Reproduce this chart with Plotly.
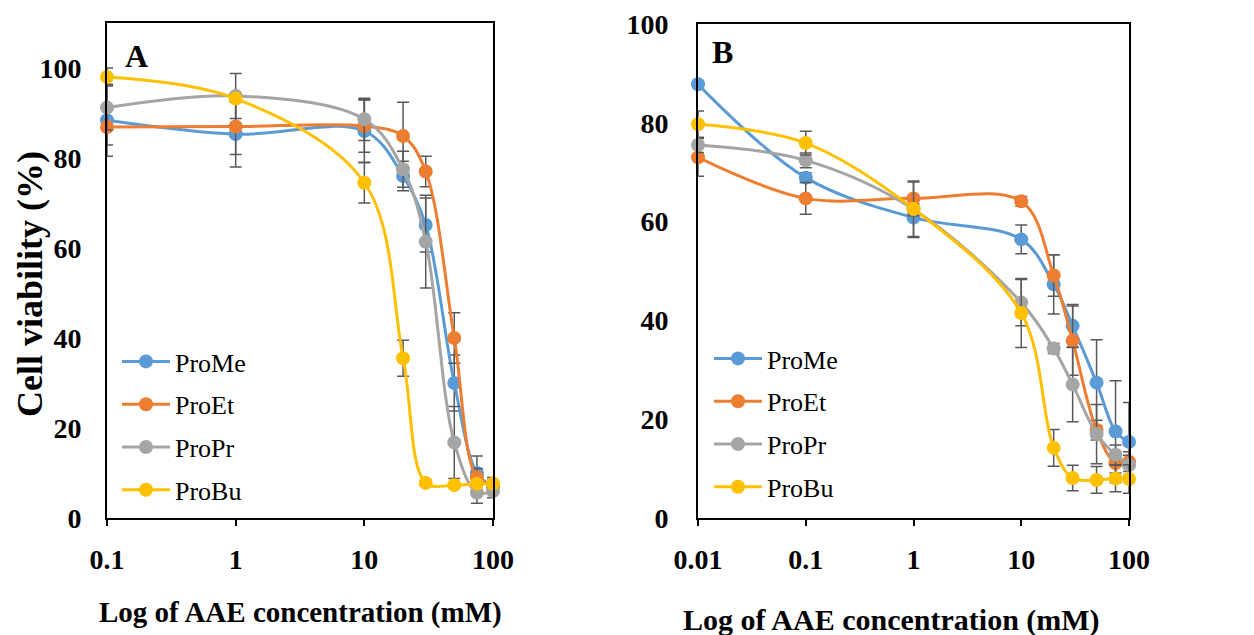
import plotly.graph_objects as go

names = ["ProMe", "ProEt", "ProPr", "ProBu"]
colors = ["#5B9BD5", "#ED7D31", "#A5A5A5", "#FFC000"]

# Panel A
conc_A = [0.1, 1, 10, 20, 30, 50, 75, 100]
A_ProMe = [88.4, 85.3, 86.0, 76.0, 65.1, 30.0, 10.0, 7.0]
A_ProEt = [86.9, 87.0, 87.1, 84.9, 77.0, 40.0, 9.0, 7.5]
A_ProPr = [91.2, 93.8, 88.6, 77.5, 61.4, 16.8, 5.6, 6.0]
A_ProBu = [98.0, 93.2, 74.5, 35.5, 7.8, 7.3, 7.6, 7.6]
A_err_ProMe = [8.0, 7.3, 7.0, 3.3, 6.0, 6.2, 3.8, 1.5]
A_err_ProEt = [4.0, 6.2, 5.8, 7.5, 3.4, 5.6, 2.0, 1.5]
A_err_ProPr = [5.0, 5.0, 4.7, 4.0, 10.3, 8.0, 2.3, 1.5]
A_err_ProBu = [2.0, 0.8, 4.5, 4.0, 0.6, 0.5, 0.5, 0.5]

# Panel B
conc_B = [0.01, 0.1, 1, 10, 20, 30, 50, 75, 100]
B_ProMe = [87.8, 68.9, 60.8, 56.4, 47.3, 38.9, 27.4, 17.5, 15.4]
B_ProEt = [73.0, 64.7, 64.7, 64.1, 49.1, 35.9, 17.8, 11.1, 11.4]
B_ProPr = [75.5, 72.4, 62.5, 43.6, 34.3, 27.0, 17.0, 12.8, 10.7]
B_ProBu = [79.7, 75.9, 62.6, 41.5, 14.2, 8.1, 7.7, 8.0, 7.9]
B_err_ProMe = [0.5, 1.0, 4.0, 2.9, 6.0, 4.3, 8.7, 10.3, 8.0]
B_err_ProEt = [3.8, 3.2, 3.5, 1.0, 4.2, 7.0, 2.0, 2.0, 2.0]
B_err_ProPr = [1.5, 1.5, 5.5, 4.7, 1.0, 7.5, 6.0, 2.0, 2.0]
B_err_ProBu = [2.7, 2.4, 1.0, 7.0, 3.7, 2.6, 2.7, 2.7, 2.9]

A_vals = [A_ProMe, A_ProEt, A_ProPr, A_ProBu]
A_errs = [A_err_ProMe, A_err_ProEt, A_err_ProPr, A_err_ProBu]
B_vals = [B_ProMe, B_ProEt, B_ProPr, B_ProBu]
B_errs = [B_err_ProMe, B_err_ProEt, B_err_ProPr, B_err_ProBu]

W, H = 1254, 635
SERIF = "Liberation Serif, Times New Roman, serif"

fig = go.Figure()

for i, n in enumerate(names):
    fig.add_trace(go.Scatter(
        x=conc_A, y=A_vals[i], name=n, mode="lines+markers",
        line=dict(color=colors[i], width=3, shape="spline"),
        marker=dict(color=colors[i], size=14),
        error_y=dict(type="data", array=A_errs[i], color="#595959", thickness=1.5, width=6),
        xaxis="x", yaxis="y", legend="legend", legendgroup="A" + n,
        cliponaxis=False,
    ))
for i, n in enumerate(names):
    fig.add_trace(go.Scatter(
        x=conc_B, y=B_vals[i], name=n, mode="lines+markers",
        line=dict(color=colors[i], width=3, shape="spline"),
        marker=dict(color=colors[i], size=14),
        error_y=dict(type="data", array=B_errs[i], color="#595959", thickness=1.5, width=6),
        xaxis="x2", yaxis="y2", legend="legend2", legendgroup="B" + n,
        cliponaxis=False,
    ))

def px_x(p):
    return p / W

def px_y(p):
    return 1 - p / H

tickfont = dict(family=SERIF, size=28, color="black", weight="bold")
axis_common = dict(showgrid=False, zeroline=False, showline=True, linecolor="black",
                   linewidth=2, mirror=True, tickfont=tickfont, automargin=False)

legend_common = dict(xanchor="left", yanchor="top",
                     font=dict(family=SERIF, size=26, color="black"),
                     bgcolor="rgba(0,0,0,0)", itemwidth=48, tracegroupgap=6,
                     traceorder="grouped")

fig.update_layout(
    template="none",
    width=W, height=H,
    margin=dict(l=0, r=0, t=0, b=0, pad=0),
    paper_bgcolor="white", plot_bgcolor="white",
    xaxis=dict(type="log", range=[-1, 2], domain=[px_x(107), px_x(493)],
               tickvals=[0.1, 1, 10, 100], ticktext=["0.1", "1", "10", "100"],
               ticks="outside", ticklen=6, tickcolor="black", tickwidth=2,
               ticklabelstandoff=9, anchor="y", **axis_common),
    yaxis=dict(range=[0, 110], domain=[px_y(518), px_y(23)],
               tickvals=[0, 20, 40, 60, 80, 100], ticks="",
               ticklabelstandoff=18, anchor="x", **axis_common),
    xaxis2=dict(type="log", range=[-2, 2], domain=[px_x(698), px_x(1129)],
                tickvals=[0.01, 0.1, 1, 10, 100], ticktext=["0.01", "0.1", "1", "10", "100"],
                ticks="outside", ticklen=6, tickcolor="black", tickwidth=2,
                ticklabelstandoff=9, anchor="y2", **axis_common),
    yaxis2=dict(range=[0, 100], domain=[px_y(518), px_y(24)],
                tickvals=[0, 20, 40, 60, 80, 100], ticks="",
                ticklabelstandoff=22, anchor="x2", **axis_common),
    legend=dict(x=px_x(117), y=px_y(338), **legend_common),
    legend2=dict(x=px_x(709), y=px_y(335), **legend_common),
    showlegend=True,
    annotations=[
        dict(text="A", x=px_x(136), y=px_y(56), xref="paper", yref="paper",
             xanchor="center", yanchor="middle", showarrow=False,
             font=dict(family=SERIF, size=32, color="black", weight="bold")),
        dict(text="B", x=px_x(722), y=px_y(52), xref="paper", yref="paper",
             xanchor="center", yanchor="middle", showarrow=False,
             font=dict(family=SERIF, size=32, color="black", weight="bold")),
        dict(text="Cell viability (%)", x=px_x(30), y=px_y(284), xref="paper", yref="paper",
             xanchor="center", yanchor="middle", textangle=-90, showarrow=False,
             font=dict(family=SERIF, size=36, color="black", weight="bold")),
        dict(text="Log of AAE concentration (mM)", x=px_x(300), y=px_y(612), xref="paper", yref="paper",
             xanchor="center", yanchor="middle", showarrow=False,
             font=dict(family=SERIF, size=29, color="black", weight="bold")),
        dict(text="Log of AAE concentration (mM)", x=px_x(891), y=px_y(620), xref="paper", yref="paper",
             xanchor="center", yanchor="middle", showarrow=False,
             font=dict(family=SERIF, size=30, color="black", weight="bold")),
    ],
)

fig.write_html("out.html")
